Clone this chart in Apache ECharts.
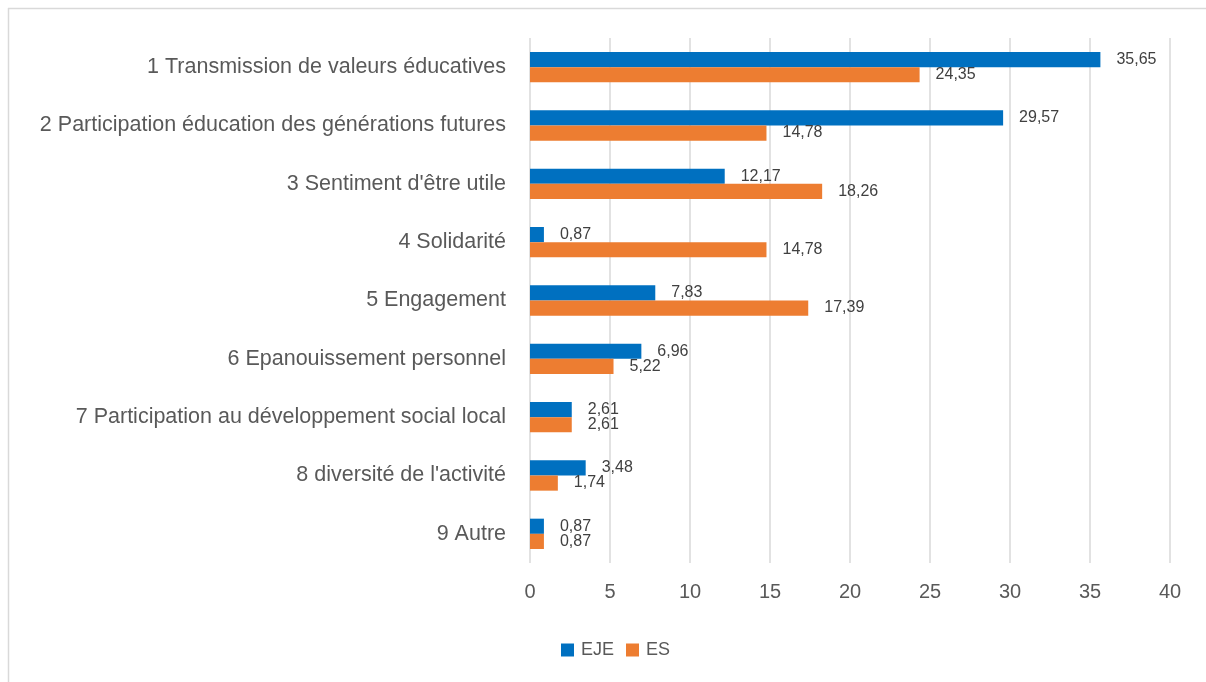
<!DOCTYPE html>
<html>
<head>
<meta charset="utf-8">
<script src="https://cdn.jsdelivr.net/npm/echarts@6/dist/echarts.min.js"></script>
<style>html,body{margin:0;padding:0;background:#fff;}#c{width:1206px;height:682px;}</style>
</head>
<body>
<div id="c"></div>
<script>
const categories = [
  "1 Transmission de valeurs éducatives",
  "2 Participation éducation des générations futures",
  "3 Sentiment d'être utile",
  "4 Solidarité",
  "5 Engagement",
  "6 Epanouissement personnel",
  "7 Participation au développement social local",
  "8 diversité de l'activité",
  "9 Autre"
];
const seriesNames = ["EJE", "ES"];
const ejeValues = [35.65, 29.57, 12.17, 0.87, 7.83, 6.96, 2.61, 3.48, 0.87];
const esValues = [24.35, 14.78, 18.26, 14.78, 17.39, 5.22, 2.61, 1.74, 0.87];

const FONT = "'Liberation Sans', Arial, sans-serif";
const chart = echarts.init(document.getElementById('c'), null, {renderer: 'canvas'});
const labelCfg = {
  show: true,
  position: 'right',
  distance: 16,
  color: '#404040',
  fontSize: 16,
  fontFamily: FONT,
  formatter: p => String(p.value).replace('.', ',')
};
chart.setOption({
  animation: false,
  backgroundColor: '#fff',
  textStyle: {fontFamily: FONT},
  graphic: [
    {type: 'line', shape: {x1: 8, y1: 8.5, x2: 1206, y2: 8.5}, style: {stroke: '#D9D9D9', lineWidth: 1.5}},
    {type: 'line', shape: {x1: 8.5, y1: 8, x2: 8.5, y2: 682}, style: {stroke: '#D9D9D9', lineWidth: 1.5}}
  ],
  grid: {left: 530, right: 36, top: 38, bottom: 119, containLabel: false},
  legend: {
    data: seriesNames,
    left: 556,
    top: 636,
    itemWidth: 13,
    itemHeight: 13,
    itemGap: 12,
    icon: 'rect',
    textStyle: {color: '#595959', fontSize: 18, fontFamily: FONT, padding: [0, 0, 0, 2]}
  },
  xAxis: {
    type: 'value',
    min: 0,
    max: 40,
    interval: 5,
    axisLine: {show: false},
    axisTick: {show: false},
    splitLine: {show: true, lineStyle: {color: '#D9D9D9', width: 1.5}},
    axisLabel: {color: '#595959', fontSize: 20, fontFamily: FONT, margin: 19}
  },
  yAxis: {
    type: 'category',
    data: categories,
    inverse: true,
    axisLine: {show: false},
    axisTick: {show: false},
    axisLabel: {color: '#595959', fontSize: 21.5, fontFamily: FONT, margin: 24}
  },
  series: [
    {
      name: seriesNames[0],
      type: 'bar',
      data: ejeValues,
      itemStyle: {color: '#0070C0'},
      barGap: '0%',
      barCategoryGap: '48%',
      label: labelCfg
    },
    {
      name: seriesNames[1],
      type: 'bar',
      data: esValues,
      itemStyle: {color: '#ED7D31'},
      barGap: '0%',
      barCategoryGap: '48%',
      label: labelCfg
    }
  ]
});
</script>
</body>
</html>
